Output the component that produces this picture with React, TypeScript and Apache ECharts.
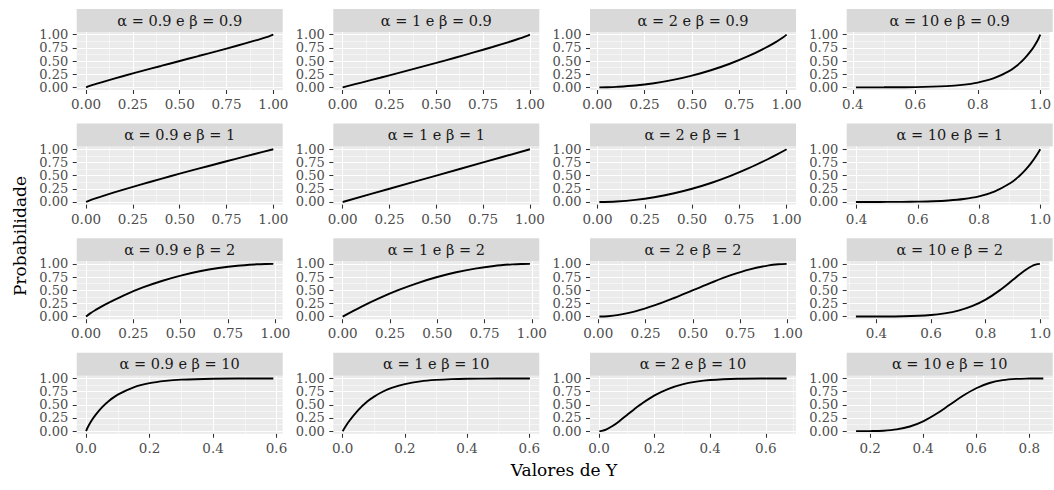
import React, { useEffect, useRef } from "react";
import * as echarts from "echarts";

const FONT = '"DejaVu Serif", serif';

const alphas = [0.9, 1, 2, 10];
const betas = [0.9, 1, 2, 10];

// β = 0.9
const xB09A09 = [0, 0.02, 0.05, 0.1, 0.2, 0.3, 0.4, 0.5, 0.6, 0.7, 0.8, 0.9, 0.95, 0.98, 1];
const yB09A09 = [0, 0.027, 0.061, 0.115, 0.215, 0.312, 0.406, 0.5, 0.594, 0.688, 0.785, 0.885, 0.939, 0.973, 1];
const xB09A1 = [0, 0.1, 0.2, 0.3, 0.4, 0.5, 0.6, 0.7, 0.8, 0.9, 0.95, 0.98, 1];
const yB09A1 = [0, 0.091, 0.182, 0.275, 0.369, 0.464, 0.562, 0.662, 0.765, 0.874, 0.933, 0.97, 1];
const xB09A2 = [0.011, 0.05, 0.1, 0.2, 0.3, 0.4, 0.5, 0.6, 0.7, 0.8, 0.9, 0.95, 0.98, 1];
const yB09A2 = [0.0001, 0.002, 0.009, 0.035, 0.079, 0.141, 0.223, 0.325, 0.448, 0.596, 0.772, 0.875, 0.944, 1];
const xB09A10 = [0.41, 0.5, 0.6, 0.7, 0.75, 0.8, 0.85, 0.9, 0.93, 0.95, 0.97, 0.98, 0.99, 0.995, 0.999, 1];
const yB09A10 = [0.0001, 0.0008, 0.0049, 0.023, 0.047, 0.091, 0.169, 0.308, 0.436, 0.549, 0.691, 0.776, 0.875, 0.932, 0.984, 1];

// β = 1
const xB1A09 = [0, 0.02, 0.05, 0.1, 0.2, 0.3, 0.4, 0.5, 0.6, 0.7, 0.8, 0.9, 1];
const yB1A09 = [0, 0.03, 0.068, 0.126, 0.235, 0.338, 0.438, 0.536, 0.631, 0.725, 0.818, 0.91, 1];
const xB1A1 = [0, 0.25, 0.5, 0.75, 1];
const yB1A1 = [0, 0.25, 0.5, 0.75, 1];
const xB1A2 = [0.01, 0.1, 0.2, 0.3, 0.4, 0.5, 0.6, 0.7, 0.8, 0.9, 0.95, 1];
const yB1A2 = [0.0001, 0.01, 0.04, 0.09, 0.16, 0.25, 0.36, 0.49, 0.64, 0.81, 0.9025, 1];
const xB1A10 = [0.398, 0.45, 0.5, 0.55, 0.6, 0.65, 0.7, 0.75, 0.8, 0.85, 0.9, 0.93, 0.95, 0.97, 0.99, 1];
const yB1A10 = [0.0001, 0.0003, 0.001, 0.0025, 0.006, 0.013, 0.028, 0.056, 0.107, 0.197, 0.349, 0.484, 0.599, 0.737, 0.904, 1];

// β = 2
const xB2A09 = [0, 0.02, 0.05, 0.1, 0.2, 0.3, 0.4, 0.5, 0.6, 0.7, 0.8, 0.9, 0.95, 0.989];
const yB2A09 = [0, 0.056, 0.125, 0.228, 0.404, 0.552, 0.675, 0.777, 0.859, 0.921, 0.965, 0.991, 0.998, 0.9999];
const xB2A1 = [0, 0.1, 0.2, 0.3, 0.4, 0.5, 0.6, 0.7, 0.8, 0.9, 0.95, 0.99];
const yB2A1 = [0, 0.19, 0.36, 0.51, 0.64, 0.75, 0.84, 0.91, 0.96, 0.99, 0.9975, 0.9999];
const xB2A2 = [0.0058, 0.05, 0.1, 0.2, 0.3, 0.4, 0.5, 0.6, 0.7, 0.8, 0.9, 0.95, 0.9942];
const yB2A2 = [0.0001, 0.007, 0.028, 0.104, 0.216, 0.352, 0.5, 0.648, 0.784, 0.896, 0.972, 0.993, 0.9999];
const xB2A10 = [0.325, 0.4, 0.5, 0.6, 0.65, 0.7, 0.75, 0.8, 0.85, 0.9, 0.93, 0.95, 0.97, 0.98, 0.99, 0.9987];
const yB2A10 = [0.0001, 0.0007, 0.0059, 0.03, 0.061, 0.113, 0.197, 0.322, 0.492, 0.697, 0.823, 0.898, 0.959, 0.98, 0.995, 0.9999];

// β = 10
const xB10A09 = [0, 0.001, 0.005, 0.01, 0.02, 0.03, 0.05, 0.07, 0.1, 0.15, 0.2, 0.25, 0.3, 0.4, 0.5, 0.59];
const yB10A09 = [0, 0.016, 0.069, 0.125, 0.224, 0.309, 0.451, 0.564, 0.692, 0.831, 0.91, 0.953, 0.977, 0.995, 0.999, 0.9999];
const xB10A1 = [0, 0.02, 0.05, 0.08, 0.1, 0.13, 0.16, 0.2, 0.25, 0.3, 0.35, 0.4, 0.5, 0.602];
const yB10A1 = [0, 0.183, 0.401, 0.566, 0.651, 0.752, 0.825, 0.893, 0.944, 0.972, 0.987, 0.994, 0.999, 0.9999];
const xB10A2 = [0.00135, 0.01, 0.025, 0.05, 0.075, 0.1, 0.125, 0.15, 0.2, 0.25, 0.3, 0.35, 0.4, 0.5, 0.6, 0.675];
const yB10A2 = [0.0001, 0.0052, 0.03, 0.102, 0.198, 0.303, 0.408, 0.508, 0.678, 0.803, 0.887, 0.939, 0.97, 0.994, 0.9993, 0.9999];
const xB10A10 = [0.147, 0.2, 0.25, 0.3, 0.35, 0.4, 0.45, 0.5, 0.55, 0.6, 0.65, 0.7, 0.75, 0.8, 0.853];
const yB10A10 = [0.0001, 0.0016, 0.0089, 0.033, 0.088, 0.186, 0.329, 0.5, 0.671, 0.814, 0.913, 0.967, 0.991, 0.998, 0.9999];

// tick values
const ticksQuarter = [0, 0.25, 0.5, 0.75, 1];
const minorQuarter = [-0.125, 0.125, 0.375, 0.625, 0.875, 1.125];
const ticksHigh = [0.4, 0.6, 0.8, 1.0];
const minorHigh = [0.3, 0.5, 0.7, 0.9, 1.1];
const ticksLow = [0, 0.2, 0.4, 0.6];
const minorLow = [-0.1, 0.1, 0.3, 0.5, 0.7];
const ticksMid = [0.2, 0.4, 0.6, 0.8];
const minorMid = [0.1, 0.3, 0.5, 0.7, 0.9];
const yTicks = [0, 0.25, 0.5, 0.75, 1];
const yMinor = [0.125, 0.375, 0.625, 0.875];

const seriesX = [
  [xB09A09, xB09A1, xB09A2, xB09A10],
  [xB1A09, xB1A1, xB1A2, xB1A10],
  [xB2A09, xB2A1, xB2A2, xB2A10],
  [xB10A09, xB10A1, xB10A2, xB10A10],
];
const seriesY = [
  [yB09A09, yB09A1, yB09A2, yB09A10],
  [yB1A09, yB1A1, yB1A2, yB1A10],
  [yB2A09, yB2A1, yB2A2, yB2A10],
  [yB10A09, yB10A1, yB10A2, yB10A10],
];

// layout
const colLeft = [76.7, 333.3, 590, 846.7];
const panelW = 206;
const stripTop = [9, 123.6, 238.2, 352.8];
const stripH = 23;
const panelH = 58;

function tickSet(r: number, c: number) {
  if (r < 3) {
    if (c < 3) return { major: ticksQuarter, minor: minorQuarter, dec: 2 };
    return { major: ticksHigh, minor: minorHigh, dec: 1 };
  }
  if (c < 3) return { major: ticksLow, minor: minorLow, dec: 1 };
  return { major: ticksMid, minor: minorMid, dec: 1 };
}

export default function App() {
  const ref = useRef<HTMLDivElement>(null);
  useEffect(() => {
    if (!ref.current) return;
    const chart = echarts.init(ref.current, undefined, { renderer: "svg" });
    const grid: any[] = [];
    const xAxis: any[] = [];
    const yAxis: any[] = [];
    const series: any[] = [];
    const graphic: any[] = [];
    for (let r = 0; r < 4; r++) {
      for (let c = 0; c < 4; c++) {
        const i = r * 4 + c;
        const xs = seriesX[r][c];
        const ys = seriesY[r][c];
        const lo = xs[0];
        const hi = xs[xs.length - 1];
        const span = hi - lo;
        const xmin = lo - 0.05 * span;
        const xmax = hi + 0.05 * span;
        const ts = tickSet(r, c);
        const top = stripTop[r] + stripH;
        grid.push({
          left: colLeft[c],
          top,
          width: panelW,
          height: panelH,
          show: true,
          backgroundColor: "#EBEBEB",
          borderWidth: 0,
          containLabel: false,
        });
        const majors = ts.major.filter((v) => v >= xmin && v <= xmax);
        const minors = ts.minor.filter((v) => v >= xmin && v <= xmax);
        xAxis.push({
          type: "value",
          gridIndex: i,
          position: "bottom",
          min: xmin,
          max: xmax,
          axisLine: { show: false, onZero: false },
          axisTick: { show: true, length: 4, customValues: majors, lineStyle: { color: "#333333", width: 1.07 } },
          axisLabel: {
            customValues: majors,
            showMinLabel: true,
            showMaxLabel: true,
            formatter: (v: number) => v.toFixed(ts.dec),
            color: "#4D4D4D",
            fontFamily: FONT,
            fontSize: 13.5,
            margin: 7,
          },
          splitLine: { show: true, lineStyle: { color: "#FFFFFF", width: 1.07 } },
        });
        xAxis.push({
          type: "value",
          gridIndex: i,
          position: "top",
          min: xmin,
          max: xmax,
          axisLine: { show: false, onZero: false },
          axisTick: { show: false, customValues: minors },
          axisLabel: { show: false, customValues: minors },
          splitLine: { show: true, lineStyle: { color: "#FFFFFF", width: 0.53 } },
        });
        yAxis.push({
          type: "value",
          gridIndex: i,
          position: "left",
          min: -0.05,
          max: 1.05,
          axisLine: { show: false, onZero: false },
          axisTick: { show: true, length: 4, customValues: yTicks, lineStyle: { color: "#333333", width: 1.07 } },
          axisLabel: {
            customValues: yTicks,
            showMinLabel: true,
            showMaxLabel: true,
            hideOverlap: false,
            formatter: (v: number) => v.toFixed(2),
            color: "#4D4D4D",
            fontFamily: FONT,
            fontSize: 13,
            lineHeight: 12,
            margin: 8.5,
          },
          splitLine: { show: true, lineStyle: { color: "#FFFFFF", width: 1.07 } },
        });
        yAxis.push({
          type: "value",
          gridIndex: i,
          position: "right",
          min: -0.05,
          max: 1.05,
          axisLine: { show: false, onZero: false },
          axisTick: { show: false, customValues: yMinor },
          axisLabel: { show: false, customValues: yMinor },
          splitLine: { show: true, lineStyle: { color: "#FFFFFF", width: 0.53 } },
        });
        series.push({
          type: "line",
          xAxisIndex: i * 2,
          yAxisIndex: i * 2,
          data: xs.map((x, k) => [x, ys[k]]),
          showSymbol: false,
          smooth: 0.35,
          lineStyle: { color: "#000000", width: 1.9 },
          z: 3,
        });
        graphic.push({
          type: "rect",
          shape: { x: colLeft[c], y: stripTop[r], width: panelW, height: stripH },
          style: { fill: "#D9D9D9" },
          silent: true,
        });
        graphic.push({
          type: "text",
          x: colLeft[c] + panelW / 2,
          y: stripTop[r] + stripH / 2,
          style: {
            text: `α = ${alphas[c]} e β = ${betas[r]}`,
            align: "center",
            verticalAlign: "middle",
            fontFamily: FONT,
            fontSize: 14.5,
            fill: "#1A1A1A",
          },
          silent: true,
        });
      }
    }
    graphic.push({
      type: "text",
      x: 564,
      y: 470,
      style: {
        text: "Valores de Y",
        align: "center",
        verticalAlign: "middle",
        fontFamily: FONT,
        fontSize: 17,
        fill: "#000000",
      },
    });
    graphic.push({
      type: "text",
      x: 20,
      y: 236,
      rotation: Math.PI / 2,
      style: {
        text: "Probabilidade",
        align: "center",
        verticalAlign: "middle",
        fontFamily: FONT,
        fontSize: 17,
        fill: "#000000",
      },
    });
    chart.setOption({
      animation: false,
      backgroundColor: "#FFFFFF",
      grid,
      xAxis,
      yAxis,
      series,
      graphic,
    });
    return () => chart.dispose();
  }, []);
  return (
    <div
      ref={ref}
      style={{ position: "fixed", left: 0, top: 0, width: 1054, height: 490 }}
    />
  );
}
